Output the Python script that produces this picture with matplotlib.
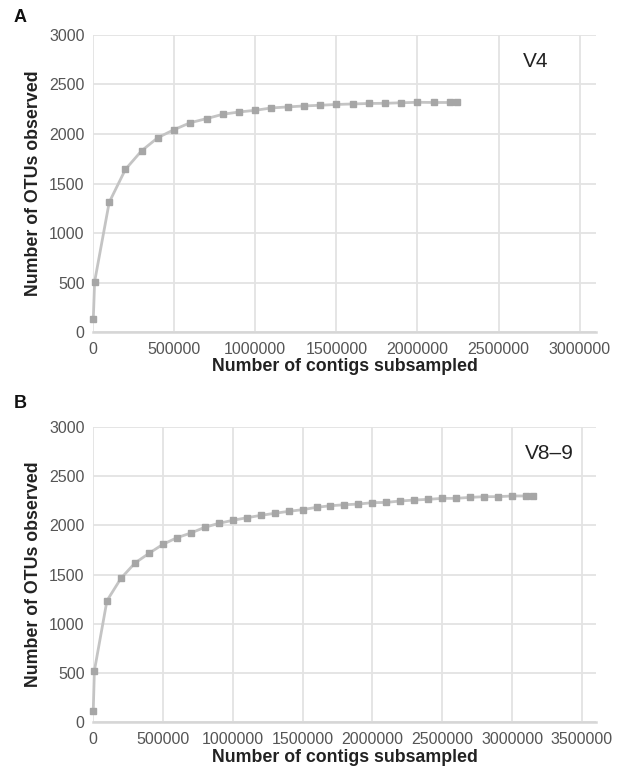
import matplotlib
matplotlib.use("Agg")
import matplotlib.pyplot as plt
from matplotlib.ticker import FuncFormatter

plt.rcParams['font.family'] = ['Liberation Sans', 'DejaVu Sans']

# ---- data ----
v4_contigs = [2000, 10000, 100000, 200000, 300000, 400000, 500000, 600000,
              700000, 800000, 900000, 1000000, 1100000, 1200000, 1300000,
              1400000, 1500000, 1600000, 1700000, 1800000, 1900000, 2000000,
              2100000, 2200000, 2245000]
v4_otus = [128, 508, 1310, 1643, 1831, 1963, 2044, 2114, 2155, 2199, 2222,
           2239, 2263, 2273, 2283, 2290, 2298, 2303, 2308, 2310, 2315, 2320,
           2318, 2318, 2318]

v89_contigs = [2000, 10000, 100000, 200000, 300000, 400000, 500000, 600000,
               700000, 800000, 900000, 1000000, 1100000, 1200000, 1300000,
               1400000, 1500000, 1600000, 1700000, 1800000, 1900000, 2000000,
               2100000, 2200000, 2300000, 2400000, 2500000, 2600000, 2700000,
               2800000, 2900000, 3000000, 3100000, 3150000]
v89_otus = [118, 524, 1235, 1462, 1617, 1715, 1807, 1874, 1922, 1980, 2020,
            2051, 2077, 2101, 2122, 2142, 2159, 2183, 2199, 2209, 2216, 2230,
            2233, 2247, 2257, 2264, 2274, 2274, 2284, 2291, 2291, 2298, 2298,
            2298]

panels = [
    dict(label="A", tag="V4", x=v4_contigs, y=v4_otus, xmax=3100000,
         xticks=range(0, 3000001, 500000), tagpos=(2730000, 2730)),
    dict(label="B", tag="V8\u20139", x=v89_contigs, y=v89_otus, xmax=3600000,
         xticks=range(0, 3500001, 500000), tagpos=(3270000, 2730)),
]

# axes rectangles in figure fractions
rects = [[0.149, 0.572, 0.806, 0.383],
         [0.149, 0.069, 0.806, 0.381]]
label_pos = [(0.022, 0.978), (0.022, 0.480)]

fig = plt.figure(figsize=(6.24, 7.76), dpi=100)

grid_c = '#e3e3e3'
tick_c = '#555555'
line_c = '#c4c4c4'
mark_c = '#a6a6a6'
plain = FuncFormatter(lambda v, pos: f"{v:.0f}")

for p, rect, lp in zip(panels, rects, label_pos):
    ax = fig.add_axes(rect)
    ax.plot(p['x'], p['y'], color=line_c, lw=2.0, marker='s', ms=4.8,
            mfc=mark_c, mec=mark_c, zorder=3, clip_on=False)
    ax.set_xlim(0, p['xmax'])
    ax.set_ylim(0, 3000)
    ax.set_xticks(list(p['xticks']))
    ax.set_yticks(range(0, 3001, 500))
    ax.xaxis.set_major_formatter(plain)
    ax.yaxis.set_major_formatter(plain)
    ax.grid(True, color=grid_c, lw=1.3)
    ax.set_axisbelow(True)
    for s in ['top', 'right', 'left']:
        ax.spines[s].set_visible(False)
    ax.spines['bottom'].set_color('#d6d6d6')
    ax.spines['bottom'].set_linewidth(1.8)
    ax.tick_params(length=0, labelsize=11.5, colors=tick_c)
    ax.tick_params(axis='x', pad=7)
    ax.tick_params(axis='y', pad=6)
    ax.set_xlabel("Number of contigs subsampled", fontsize=12.8,
                  fontweight='bold', color='#222222', labelpad=1)
    ax.set_ylabel("Number of OTUs observed", fontsize=12.8,
                  fontweight='bold', color='#222222', labelpad=5)
    ax.text(p['tagpos'][0], p['tagpos'][1], p['tag'], fontsize=15,
            ha='center', va='center', color='#222222')
    fig.text(lp[0], lp[1], p['label'], fontsize=13, fontweight='bold',
             ha='left', va='center', color='#111111')

fig.savefig("out.png", dpi=100, facecolor='white')
